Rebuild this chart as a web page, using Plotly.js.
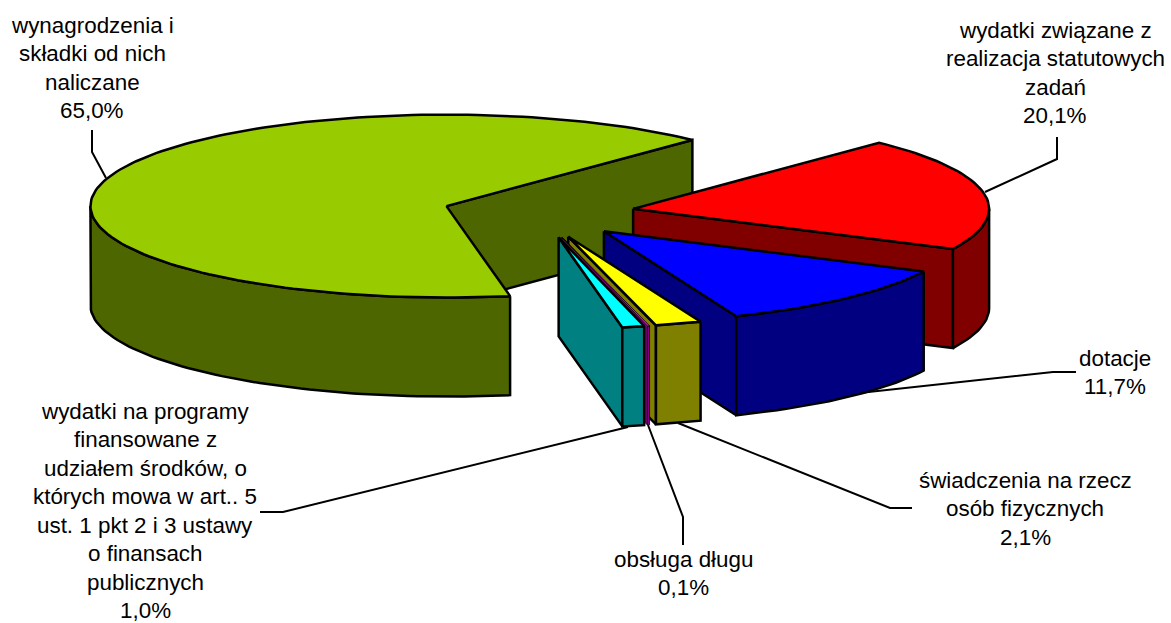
<!DOCTYPE html>
<html>
<head>
<meta charset="utf-8">
<script src="https://cdn.plot.ly/plotly-3.0.1.min.js"></script>
<style>html,body{margin:0;padding:0;background:#fff}#c{width:1171px;height:623px}</style>
</head>
<body>
<div id="c"></div>
<script>
// Data, clockwise from the pie's first slice
const categories = [
  ["wydatki związane z", "realizacja statutowych", "zadań"],
  ["dotacje"],
  ["świadczenia na rzecz", "osób fizycznych"],
  ["obsługa długu"],
  ["wydatki na programy", "finansowane z", "udziałem środków, o", "których mowa w art.. 5", "ust. 1 pkt 2 i 3 ustawy", "o finansach", "publicznych"],
  ["wynagrodzenia i", "składki od nich", "naliczane"]
];
const shares = [20.1, 11.7, 2.1, 0.1, 1.0, 65.0];
const topColors = ["#FF0000", "#0000FF", "#FFFF00", "#FF00FF", "#00FFFF", "#99CC00"];
const sideColors = ["#800000", "#000080", "#808000", "#800080", "#008080", "#4D6600"];

// Pie projection (pixels of the chart's hidden axes)
const CX = 538.5, CY = 213.2, RX = 356, RY = 91.5, DEPTH = 99, EXPLODE = 0.27, START_DEG = 43.7;
const LINE_W = 2.5, THIN_LINE_W = 0.8, LEADER_W = 2, FONT_SIZE = 22.4, LINE_STEP = 28.5;
const paintOrder = [5, 0, 1, 2, 3, 4];
// label anchor: centre x, first line y; leader polyline
const labelPlace = [
  {x: 1055, y: 30,  leader: [[1057,137],[1057,159],[985,192]]},
  {x: 1115, y: 358, leader: [[1076,372],[1053,372],[850,394]]},
  {x: 1025, y: 480, leader: [[912,508],[890,508],[678,423]]},
  {x: 683,  y: 559, leader: [[683,545],[683,517],[648,425]]},
  {x: 145,  y: 411, leader: [[260,512],[283,512],[628,427]]},
  {x: 92,   y: 25,  leader: [[92,130],[92,152],[106,178]]}
];

const rad = d => d * Math.PI / 180;
const total = shares.reduce((a, b) => a + b, 0);
const traces = [];
function poly(pts, fill, width) {
  traces.push({
    type: "scatter", mode: "lines", x: pts.map(p => p[0]), y: pts.map(p => p[1]),
    fill: "toself", fillcolor: fill, line: {color: "#000", width: width, shape: "linear"},
    hoverinfo: "skip", showlegend: false
  });
}
function rim(ax, ay, deg, dz) {
  return [ax + RX * Math.sin(rad(deg)), ay - RY * Math.cos(rad(deg)) + dz];
}

// Leader lines go under the pie, so they stop at its edge
labelPlace.forEach(place => traces.push({
  type: "scatter", mode: "lines",
  x: place.leader.map(p => p[0]), y: place.leader.map(p => p[1]),
  line: {color: "#000", width: LEADER_W}, hoverinfo: "skip", showlegend: false
}));

const ranges = [];
let acc = START_DEG;
shares.forEach(v => { const s = v / total * 360; ranges.push([acc, acc + s]); acc += s; });

paintOrder.forEach(i => {
  const [a0, a1] = ranges[i];
  const mid = (a0 + a1) / 2;
  const ax = CX + EXPLODE * RX * Math.sin(rad(mid));
  const ay = CY - EXPLODE * RY * Math.cos(rad(mid));
  const w = shares[i] < 0.5 ? THIN_LINE_W : LINE_W;
  const arc = (from, to, dz) => {
    const n = Math.max(2, Math.ceil(Math.abs(to - from) / 1.5));
    const out = [];
    for (let k = 0; k <= n; k++) out.push(rim(ax, ay, from + (to - from) * k / n, dz));
    return out;
  };
  // end wall (clockwise side)
  if (Math.sin(rad(a1)) > 0) {
    poly([[ax, ay], rim(ax, ay, a1, 0), rim(ax, ay, a1, DEPTH), [ax, ay + DEPTH], [ax, ay]], sideColors[i], w);
  }
  // start wall
  if (Math.sin(rad(a0)) < 0) {
    poly([[ax, ay], rim(ax, ay, a0, 0), rim(ax, ay, a0, DEPTH), [ax, ay + DEPTH], [ax, ay]], sideColors[i], w);
  }
  // outer wall: the part of the rim facing the viewer (90..270 deg)
  const from = Math.max(a0, 90), to = Math.min(a1, 270);
  if (to > from) {
    const t = arc(from, to, 0), b = arc(to, from, DEPTH);
    poly(t.concat(b, [t[0]]), sideColors[i], w);
  }
  // top face
  const topArc = arc(a0, a1, 0);
  poly([[ax, ay]].concat(topArc, [[ax, ay]]), topColors[i], w);
});

const annotations = [];
categories.forEach((lines, i) => {
  const place = labelPlace[i];
  const all = lines.concat([shares[i].toFixed(1).replace(".", ",") + "%"]);
  all.forEach((txt, k) => annotations.push({
    x: place.x, y: place.y + k * LINE_STEP, xref: "x", yref: "y", text: txt,
    showarrow: false, xanchor: "center", yanchor: "middle",
    font: {family: "Liberation Sans, Arial, sans-serif", size: FONT_SIZE, color: "#000"}
  }));
});

Plotly.newPlot("c", traces, {
  width: 1171, height: 623,
  margin: {l: 0, r: 0, t: 0, b: 0},
  paper_bgcolor: "#fff", plot_bgcolor: "#fff",
  xaxis: {range: [0, 1171], visible: false, fixedrange: true},
  yaxis: {range: [623, 0], visible: false, fixedrange: true},
  annotations: annotations,
  showlegend: false
}, {displayModeBar: false, staticPlot: true});
</script>
</body>
</html>
